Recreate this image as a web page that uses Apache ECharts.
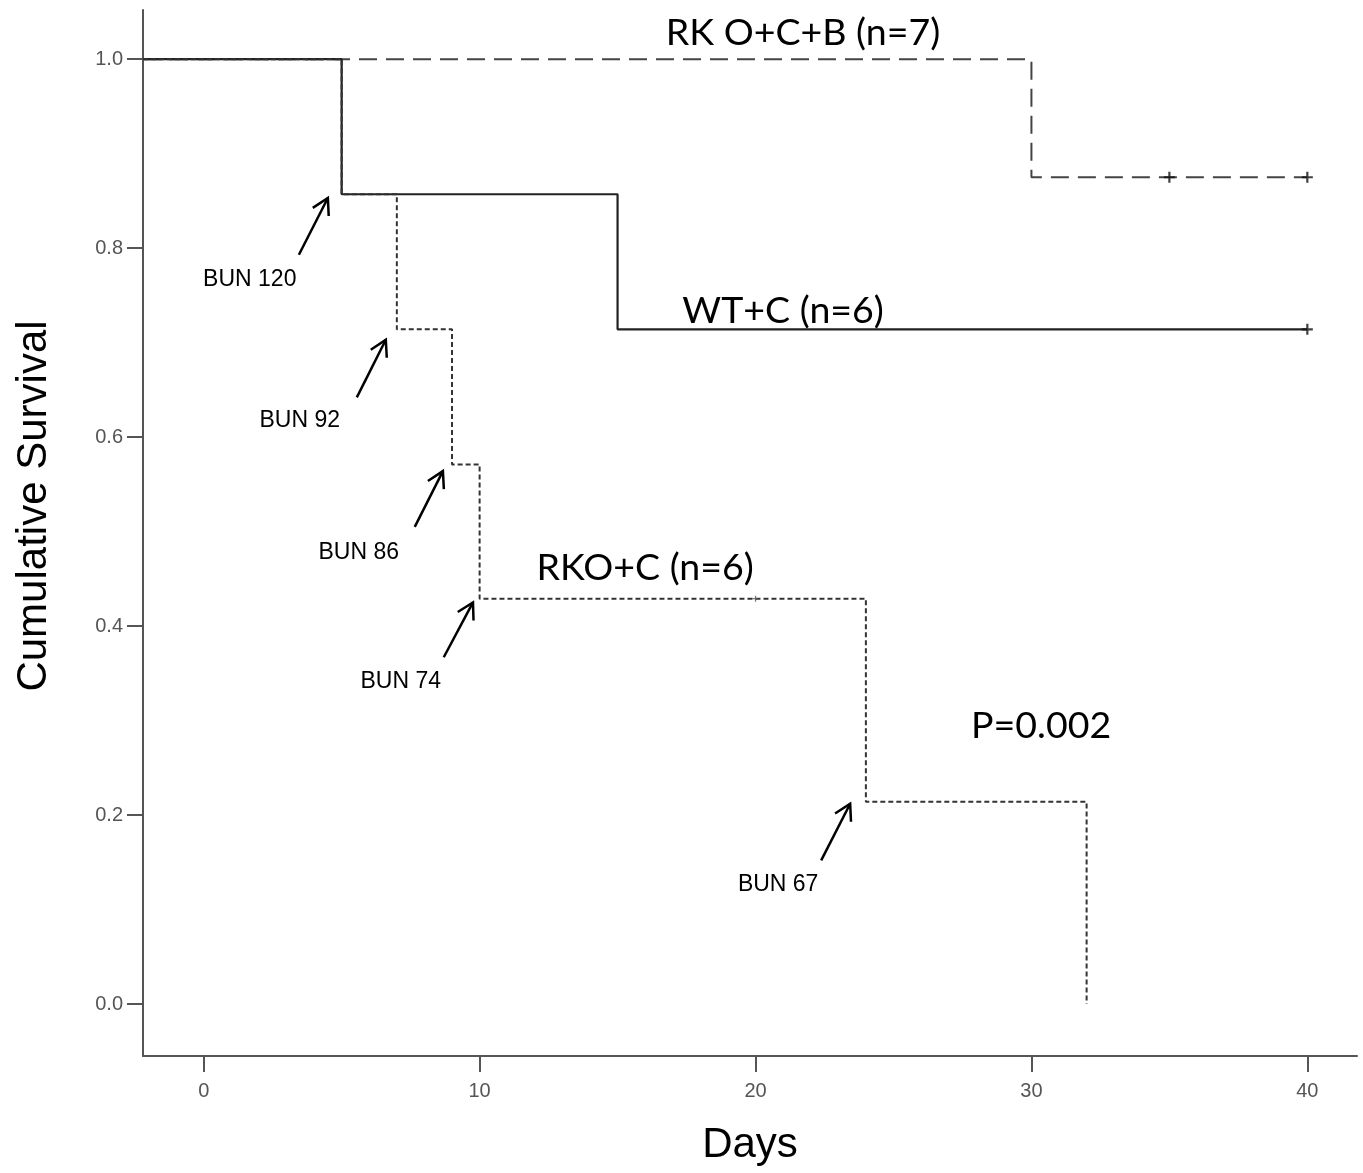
<!DOCTYPE html>
<html>
<head>
<meta charset="utf-8">
<script src="https://cdn.jsdelivr.net/npm/echarts@6/dist/echarts.min.js"></script>
<style>
  html, body { margin: 0; padding: 0; background: #fff; }
  #chart { width: 1363px; height: 1173px; }
</style>
</head>
<body>
<div id="chart"></div>
<script>
// Kaplan-Meier survival, days after challenge
const xTicks = [0, 10, 20, 30, 40];
const yTicks = [0.0, 0.2, 0.4, 0.6, 0.8, 1.0];

// WT+C (n=6)
const wtDays = [0, 5, 15, 40];
const wtSurv = [1.0, 0.857, 0.714, 0.714];
const wtCensorDays = [40];
const wtCensorSurv = [0.714];

// RK O+C+B (n=7)
const okbDays = [0, 30, 40];
const okbSurv = [1.0, 0.875, 0.875];
const okbCensorDays = [35, 40];
const okbCensorSurv = [0.875, 0.875];

// RKO+C (n=6)
const rkoDays = [0, 5, 7, 9, 10, 24, 32];
const rkoSurv = [1.0, 0.857, 0.714, 0.571, 0.429, 0.214, 0.0];
const rkoCensorDays = [20];
const rkoCensorSurv = [0.429];

// BUN readings at each RKO+C death
const bunLabels = ['BUN 120', 'BUN 92', 'BUN 86', 'BUN 74', 'BUN 67'];

// axis extent
const X_MIN = -2.2, X_MAX = 41.8;
const Y_MIN = -0.055, Y_MAX = 1.052;

// annotation placement, in axis units: arrow tip, arrow tail, label centre
const bunArrowPlacement = [
  { tip: [4.50, 0.853], tail: [3.45, 0.793], label: [1.67, 0.767] },
  { tip: [6.60, 0.703], tail: [5.55, 0.642], label: [3.48, 0.617] },
  { tip: [8.67, 0.564], tail: [7.65, 0.505], label: [5.62, 0.478] },
  { tip: [9.76, 0.425], tail: [8.70, 0.367], label: [7.14, 0.341] },
  { tip: [23.43, 0.212], tail: [22.38, 0.152], label: [20.82, 0.126] }
];
const groupTextPlacement = [
  { text: 'RK O+C+B (n=7)', at: [21.72, 1.0275] },
  { text: 'WT+C (n=6)', at: [21.0, 0.734] },
  { text: 'RKO+C (n=6)', at: [16.0, 0.462] },
  { text: 'P=0.002', at: [30.35, 0.294] }
];

function curve(days, surv) {
  // curves begin at the left edge of the plot at full survival
  const pts = days.map((d, i) => [d, surv[i]]);
  pts[0] = [X_MIN, surv[0]];
  return pts;
}
function pairs(xs, ys) { return xs.map((x, i) => [x, ys[i]]); }

const PLUS = 'path://M4,0h2v4h4v2h-4v4h-2v-4h-4v-2h4z';
const AXIS_FONT = '"Liberation Sans", Arial, sans-serif';
const NOTE_FONT = 'Lato, "Open Sans", sans-serif';

const chart = echarts.init(document.getElementById('chart'), null, { renderer: 'canvas' });

chart.setOption({
  animation: false,
  backgroundColor: '#ffffff',
  grid: { left: 143, right: 6, top: 10, bottom: 117 },
  xAxis: {
    type: 'value', min: X_MIN, max: X_MAX,
    name: 'Days', nameLocation: 'middle', nameGap: 68,
    nameTextStyle: { fontFamily: AXIS_FONT, fontSize: 42, color: '#000' },
    axisLine: { onZero: false, lineStyle: { color: '#555', width: 2 } },
    axisTick: { show: true, length: 16, customValues: xTicks, lineStyle: { color: '#555', width: 2 } },
    axisLabel: { customValues: xTicks, margin: 25, fontFamily: AXIS_FONT, fontSize: 20, color: '#555' },
    splitLine: { show: false }
  },
  yAxis: {
    type: 'value', min: Y_MIN, max: Y_MAX,
    axisLine: { show: true, onZero: false, lineStyle: { color: '#555', width: 2 } },
    axisTick: { show: true, length: 16, customValues: yTicks, lineStyle: { color: '#555', width: 2 } },
    axisLabel: { customValues: yTicks, margin: 20, fontFamily: AXIS_FONT, fontSize: 20, color: '#555',
                 formatter: v => v.toFixed(1) },
    splitLine: { show: false }
  },
  graphic: [{
    type: 'text', x: 34, y: 506, rotation: Math.PI / 2,
    style: { text: 'Cumulative Survival', font: '42px ' + AXIS_FONT, fill: '#000',
             align: 'center', verticalAlign: 'middle' }
  }],
  series: [
    {
      name: 'RK O+C+B (n=7)', type: 'line', step: 'end', showSymbol: false,
      data: curve(okbDays, okbSurv),
      lineStyle: { color: '#444', width: 2, type: [18, 9] }, z: 2
    },
    {
      name: 'WT+C (n=6)', type: 'line', step: 'end', showSymbol: false,
      data: curve(wtDays, wtSurv),
      lineStyle: { color: '#222', width: 2.2, type: 'solid' }, z: 3
    },
    {
      name: 'RKO+C (n=6)', type: 'line', step: 'end', showSymbol: false,
      data: curve(rkoDays, rkoSurv),
      lineStyle: { color: '#333', width: 2, type: [5, 3] }, z: 4
    },
    {
      name: 'censored', type: 'scatter', symbol: PLUS, symbolSize: 11,
      data: pairs(okbCensorDays, okbCensorSurv).concat(pairs(wtCensorDays, wtCensorSurv)),
      itemStyle: { color: '#111' }, z: 5
    },
    {
      name: 'censored-small', type: 'scatter', symbol: PLUS, symbolSize: 6,
      data: pairs(rkoCensorDays, rkoCensorSurv),
      itemStyle: { color: '#555' }, z: 5
    },
    {
      name: 'BUN', type: 'custom', z: 6,
      data: bunLabels.map((t, i) => [i]),
      renderItem(params, api) {
        const p = bunArrowPlacement[params.dataIndex];
        const tip = api.coord(p.tip);
        const tail = api.coord(p.tail);
        const lbl = api.coord(p.label);
        const ang = Math.atan2(tail[1] - tip[1], tail[0] - tip[0]);
        const L = 18, a = 0.52;
        const h1 = [tip[0] + L * Math.cos(ang + a), tip[1] + L * Math.sin(ang + a)];
        const h2 = [tip[0] + L * Math.cos(ang - a), tip[1] + L * Math.sin(ang - a)];
        return {
          type: 'group',
          children: [
            { type: 'line', shape: { x1: tail[0], y1: tail[1], x2: tip[0], y2: tip[1] },
              style: { stroke: '#000', lineWidth: 2.5 } },
            { type: 'polyline', shape: { points: [h1, tip, h2] },
              style: { stroke: '#000', lineWidth: 2.5, fill: null } },
            { type: 'text', x: lbl[0], y: lbl[1],
              style: { text: bunLabels[params.dataIndex], font: '23px ' + AXIS_FONT, fill: '#000',
                       align: 'center', verticalAlign: 'middle' } }
          ]
        };
      }
    },
    {
      name: 'notes', type: 'custom', z: 6,
      data: groupTextPlacement.map((g, i) => [i]),
      renderItem(params, api) {
        const g = groupTextPlacement[params.dataIndex];
        const pt = api.coord(g.at);
        return {
          type: 'text', x: pt[0], y: pt[1],
          style: { text: g.text, font: '37.5px ' + NOTE_FONT, fill: '#000',
                   align: 'center', verticalAlign: 'middle' }
        };
      }
    }
  ]
});
</script>
</body>
</html>
